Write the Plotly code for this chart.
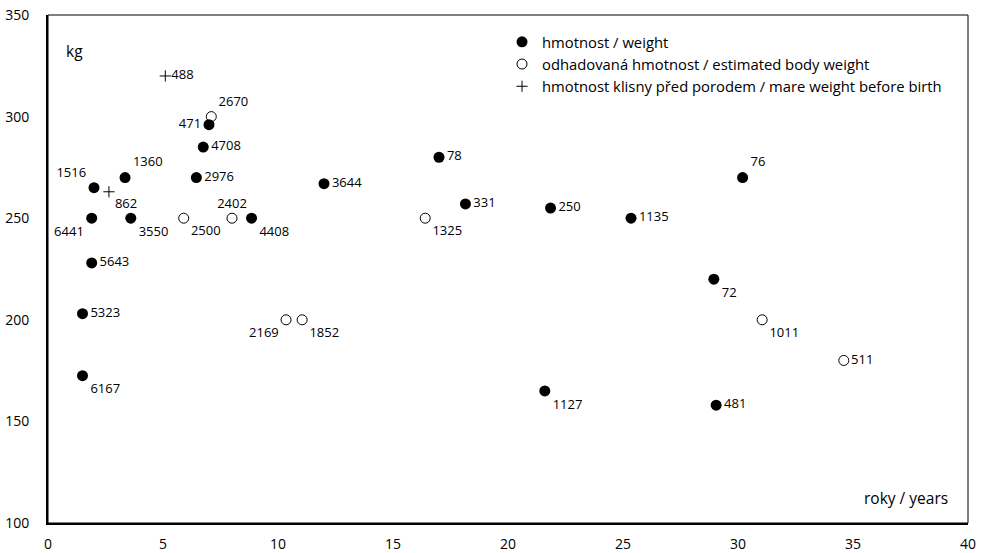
import plotly.graph_objects as go

# hmotnost / weight (filled circles)
w_x = [1.5, 1.5, 1.9, 1.9, 2.0, 3.35, 3.6, 6.45, 6.75, 7.0, 8.85, 12.0, 17.0, 18.15, 21.85, 21.6, 25.35, 28.95, 29.05, 30.2]
w_y = [203, 172.5, 228, 250, 265, 270, 250, 270, 285, 296, 250, 267, 280, 257, 255, 165, 250, 220, 158, 270]
w_lab = ["5323", "6167", "5643", "6441", "1516", "1360", "3550", "2976", "4708", "471", "4408", "3644", "78", "331", "250", "1127", "1135", "72", "481", "76"]
w_pos = ["middle right", "bottom right", "middle right", "bottom left", "top left", "top right", "bottom right", "middle right", "middle right", "middle left", "bottom right", "middle right", "middle right", "middle right", "middle right", "bottom right", "middle right", "bottom right", "middle right", "top right"]

# odhadovaná hmotnost / estimated body weight (open circles)
e_x = [5.9, 7.1, 8.0, 10.35, 11.05, 16.4, 31.05, 34.6]
e_y = [250, 300, 250, 200, 200, 250, 200, 180]
e_lab = ["2500", "2670", "2402", "2169", "1852", "1325", "1011", "511"]
e_pos = ["bottom right", "top right", "top center", "bottom left", "bottom right", "bottom right", "bottom right", "middle right"]

# hmotnost klisny před porodem / mare weight before birth (plus)
m_x = [5.1, 2.65]
m_y = [320, 263]
m_lab = ["488", "862"]
m_pos = ["middle right", "bottom right"]

x_ticks = [0, 5, 10, 15, 20, 25, 30, 35, 40]
y_ticks = [100, 150, 200, 250, 300, 350]

FONT = "Open Sans"
tfont = dict(family=FONT, size=13, color="black")

fig = go.Figure()
fig.add_trace(go.Scatter(
    x=w_x, y=w_y, mode="markers+text", text=w_lab, textposition=w_pos,
    textfont=tfont, name="hmotnost / weight",
    marker=dict(symbol="circle", size=11, color="black", line=dict(width=0)),
))
fig.add_trace(go.Scatter(
    x=e_x, y=e_y, mode="markers+text", text=e_lab, textposition=e_pos,
    textfont=tfont, name="odhadovaná hmotnost / estimated body weight",
    marker=dict(symbol="circle-open", size=10, color="black", line=dict(width=1, color="black")),
))
fig.add_trace(go.Scatter(
    x=m_x, y=m_y, mode="markers+text", text=m_lab, textposition=m_pos,
    textfont=tfont, name="hmotnost klisny před porodem / mare weight before birth",
    marker=dict(symbol="cross-thin-open", size=8, color="black", line=dict(width=1, color="black")),
))

fig.update_layout(
    width=983, height=553,
    margin=dict(l=48, r=15, t=15, b=30),
    paper_bgcolor="white", plot_bgcolor="white",
    font=dict(family=FONT, size=13, color="black"),
    showlegend=True,
    legend=dict(x=0.4935, y=0.979, xanchor="left", yanchor="top",
                bgcolor="rgba(0,0,0,0)", font=dict(family=FONT, size=14.8),
                itemsizing="trace", tracegroupgap=0),
    xaxis=dict(range=[0, 40], tickvals=x_ticks, automargin=False,
               showgrid=False, zeroline=False, showline=True, linecolor="black",
               linewidth=2, ticks="", ticklabelstandoff=7, tickfont=dict(size=14)),
    yaxis=dict(range=[100, 350], tickvals=y_ticks, automargin=False,
               showgrid=False, zeroline=False, showline=True, linecolor="black",
               linewidth=2, ticks="", ticklabelstandoff=14, tickfont=dict(size=14)),
    shapes=[dict(type="rect", xref="paper", yref="paper", x0=0, y0=0, x1=1, y1=1,
                 line=dict(color="black", width=1))],
    annotations=[
        dict(text="kg", xref="paper", yref="paper", x=0.017, y=0.929,
             xanchor="left", yanchor="middle", showarrow=False, font=dict(size=15.5)),
        dict(text="roky / years", xref="paper", yref="paper", x=0.9804, y=0.049,
             xanchor="right", yanchor="middle", showarrow=False, font=dict(size=15.5)),
    ],
)

fig.write_html(
    "out.html",
    config={"displayModeBar": False},
    post_script="document.body.style.margin='0';document.body.style.overflow='hidden';",
)
